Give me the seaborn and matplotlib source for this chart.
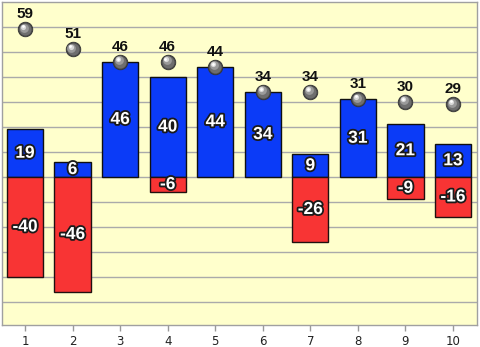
import matplotlib
matplotlib.use("Agg")
import matplotlib.pyplot as plt
import matplotlib.patheffects as pe
import matplotlib.transforms as mtransforms
import seaborn as sns
import pandas as pd
import numpy as np

categories = ['1', '2', '3', '4', '5', '6', '7', '8', '9', '10']
positive = [19, 6, 46, 40, 44, 34, 9, 31, 21, 13]
negative = [-40, -46, 0, -6, 0, 0, -26, 0, -9, -16]
totals = [59, 51, 46, 46, 44, 34, 34, 31, 30, 29]

sns.set_theme(style="white")
plt.rcParams['font.family'] = ['Liberation Sans', 'DejaVu Sans']

fig = plt.figure(figsize=(4.8, 3.47), dpi=100)
ax = fig.add_axes([2/480, 1 - 325/347, 475/480, 323/347])
ax.set_facecolor('#FFFFCC')

df = pd.DataFrame({'cat': categories, 'pos': positive, 'neg': negative, 'tot': totals})

sns.barplot(data=df, x='cat', y='pos', color='#0b3bf7', width=0.76,
            edgecolor='#101010', linewidth=1, saturation=1, ax=ax, zorder=3)
sns.barplot(data=df, x='cat', y='neg', color='#f83434', width=0.76,
            edgecolor='#201010', linewidth=1, saturation=1, ax=ax, zorder=3)

for p in ax.patches:
    if abs(p.get_height()) < 1e-9:
        p.set_visible(False)

ax.set_ylim(-59.2, 70)
ax.set_xlim(-0.484, 9.505)
ax.set_yticks(np.arange(-50, 70, 10))
ax.yaxis.grid(True, color='#aaaaaa', linewidth=1, zorder=0)
ax.set_axisbelow(True)
ax.tick_params(axis='y', left=False, labelleft=False)
ax.tick_params(axis='x', bottom=True, length=4, width=1, color='#999999',
               labelsize=8.5, labelcolor='#222222', pad=3)
for lbl in ax.get_xticklabels():
    lbl.set_fontfamily('DejaVu Sans')
ax.set_xlabel('')
ax.set_ylabel('')
for s in ax.spines.values():
    s.set_color('#a0a0a0')
    s.set_linewidth(1)

stroke = [pe.withStroke(linewidth=2.6, foreground='#1a1a1a')]
xs = np.arange(len(categories))
for i in xs:
    if positive[i] != 0:
        ax.text(i, positive[i] / 2, str(positive[i]), ha='center', va='center',
                color='white', fontsize=12.5, fontweight='bold', path_effects=stroke, zorder=5)
    if negative[i] != 0:
        ax.text(i, negative[i] / 2, str(negative[i]), ha='center', va='center',
                color='white', fontsize=12.5, fontweight='bold', path_effects=stroke, zorder=5)

# spheres
ax.scatter(xs, totals, s=110, color='#4a4a4a', edgecolor='#333333', linewidth=0.6, zorder=6)
ax.scatter(xs, totals, s=75, color='#6e6e6e', linewidth=0, zorder=7)
off1 = mtransforms.offset_copy(ax.transData, fig=fig, x=-0.8, y=1.2, units='points')
ax.scatter(xs, totals, s=40, color='#9a9a9a', linewidth=0, zorder=8, transform=off1)
off2 = mtransforms.offset_copy(ax.transData, fig=fig, x=-1.4, y=2.0, units='points')
ax.scatter(xs, totals, s=14, color='#d8d8d8', linewidth=0, zorder=9, transform=off2)
off3 = mtransforms.offset_copy(ax.transData, fig=fig, x=-1.6, y=2.3, units='points')
ax.scatter(xs, totals, s=4, color='#ffffff', linewidth=0, zorder=9, transform=off3)

for i in xs:
    ax.annotate(str(totals[i]), (i, totals[i]), xytext=(0, 11), textcoords='offset points',
                ha='center', va='center', fontsize=11, fontweight='bold', color='#111111', zorder=10)

fig.savefig('out.png', dpi=100, facecolor='white')
